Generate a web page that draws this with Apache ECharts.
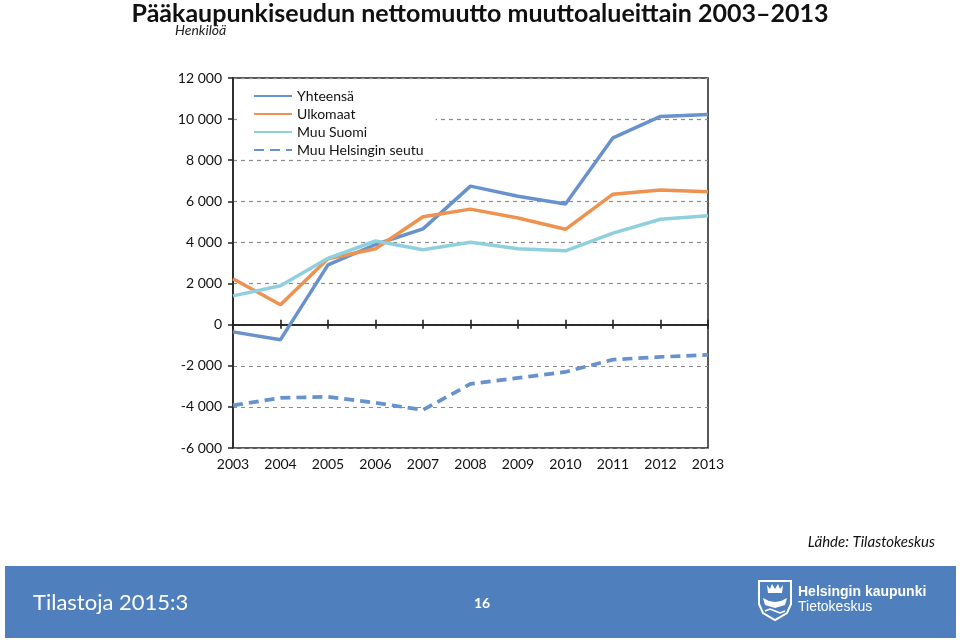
<!DOCTYPE html>
<html>
<head>
<meta charset="utf-8">
<script src="https://cdn.jsdelivr.net/npm/echarts@6/dist/echarts.min.js"></script>
<style>html,body{margin:0;padding:0;background:#fff}#c{width:960px;height:640px}</style>
</head>
<body>
<div id="c"></div>
<script>
const years = ['2003','2004','2005','2006','2007','2008','2009','2010','2011','2012','2013'];
const yhteensa = [-350, -730, 2910, 3900, 4660, 6740, 6250, 5870, 9090, 10130, 10230];
const ulkomaat = [2230, 970, 3210, 3690, 5250, 5620, 5190, 4640, 6350, 6550, 6470];
const muuSuomi = [1400, 1890, 3230, 4070, 3640, 4010, 3690, 3590, 4450, 5130, 5300];
const muuHelsinki = [-3930, -3560, -3510, -3800, -4150, -2880, -2590, -2300, -1700, -1570, -1470];
const seriesNames = ['Yhteensä', 'Ulkomaat', 'Muu Suomi', 'Muu Helsingin seutu'];

const FONT = 'Lato';
const chart = echarts.init(document.getElementById('c'), null, {renderer: 'canvas'});

function fmt(v) {
  const s = Math.abs(v).toString();
  const t = s.length > 3 ? s.slice(0, s.length - 3) + ' ' + s.slice(-3) : s;
  return (v < 0 ? '-' : '') + t;
}

const common = {type: 'line', xAxisIndex: 0, yAxisIndex: 0, symbol: 'none', smooth: false};

chart.setOption({
  animation: false,
  textStyle: {fontFamily: FONT},
  title: [
    {text: 'Pääkaupunkiseudun nettomuutto muuttoalueittain 2003–2013', left: 'center', top: -4,
     textStyle: {fontFamily: FONT, fontSize: 25, fontWeight: 'bold', color: '#111'}},
    {text: 'Henkilöä', left: 170, top: 18,
     textStyle: {fontFamily: FONT, fontSize: 14, fontStyle: 'italic', fontWeight: 'normal', color: '#222'}},
    {text: 'Lähde: Tilastokeskus', right: 20, top: 530,
     textStyle: {fontFamily: FONT, fontSize: 15, fontStyle: 'italic', fontWeight: 'normal', color: '#111'}}
  ],
  grid: {left: 233, right: 252, top: 78, bottom: 192, show: true, borderColor: '#222', borderWidth: 1.5, backgroundColor: 'transparent'},
  legend: {
    data: seriesNames, orient: 'vertical', left: 237, top: 87,
    padding: [2, 12, 0, 16], itemGap: 4, itemWidth: 38, itemHeight: 14,
    backgroundColor: '#fff',
    itemStyle: {opacity: 0},
    textStyle: {fontFamily: FONT, fontSize: 14, color: '#111'}
  },
  xAxis: [
    {type: 'category', data: years, boundaryGap: false, position: 'bottom',
     axisLine: {onZero: true, onZeroAxisIndex: 0, lineStyle: {color: '#222', width: 1.6}},
     axisTick: {show: true, interval: 0, length: 4, lineStyle: {color: '#222', width: 1.6}},
     axisLabel: {show: false}, splitLine: {show: false}},
    {type: 'category', data: years, boundaryGap: false, position: 'bottom',
     axisLine: {show: false, onZero: false}, axisTick: {show: false},
     axisLabel: {show: true, interval: 0, margin: 9, fontFamily: FONT, fontSize: 14, color: '#111'}, splitLine: {show: false}},
    {type: 'category', data: years, boundaryGap: false, position: 'bottom',
     axisLine: {onZero: true, onZeroAxisIndex: 1, show: true, lineStyle: {color: '#222', width: 1.6}},
     axisTick: {show: true, interval: 0, inside: true, length: 5, lineStyle: {color: '#222', width: 1.6}},
     axisLabel: {show: false}, splitLine: {show: false}}
  ],
  yAxis: [
    {type: 'value', min: -6000, max: 12000, interval: 2000,
     axisLine: {show: true, lineStyle: {color: '#222', width: 1.5}},
     axisTick: {show: true, length: 5, lineStyle: {color: '#222', width: 1.5}},
     axisLabel: {margin: 11, fontFamily: FONT, fontSize: 14, color: '#111', formatter: fmt},
     splitLine: {show: true, lineStyle: {color: '#8c8c8c', width: 1.2, type: [4, 4]}}},
    {type: 'value', min: -6000, max: 12000, interval: 2000, position: 'left', show: false,
     splitLine: {show: false}}
  ],
  series: [
    Object.assign({}, common, {name: seriesNames[0], data: yhteensa, lineStyle: {color: '#6892CD', width: 3.5}, itemStyle: {color: '#6892CD'}}),
    Object.assign({}, common, {name: seriesNames[1], data: ulkomaat, lineStyle: {color: '#EF9250', width: 3.5}, itemStyle: {color: '#EF9250'}}),
    Object.assign({}, common, {name: seriesNames[2], data: muuSuomi, lineStyle: {color: '#8ED0DD', width: 3.5}, itemStyle: {color: '#8ED0DD'}}),
    Object.assign({}, common, {name: seriesNames[3], data: muuHelsinki, lineStyle: {color: '#6892CD', width: 3.7, type: [10, 6]}, itemStyle: {color: '#6892CD'}})
  ],
  graphic: [
    {type: 'rect', shape: {x: 5, y: 566, width: 951, height: 72}, style: {fill: '#4F80BD'}, z: 0},
    {type: 'text', x: 33, y: 592, style: {text: 'Tilastoja 2015:3', fill: '#fff', font: '22px ' + FONT}},
    {type: 'text', x: 474, y: 596, style: {text: '16', fill: '#fff', font: 'bold 14px ' + FONT}},
    {type: 'polygon', shape: {points: [[759,581],[791,581],[791,604],[787,613],[775,620],[763,613],[759,604]]}, style: {fill: 'none', stroke: '#fff', lineWidth: 2}},
    {type: 'polygon', shape: {points: [[767,585],[770,589],[772,584],[775,589],[778,584],[780,589],[783,585],[782,593],[768,593]]}, style: {fill: '#fff'}},
    {type: 'polygon', shape: {points: [[763,598],[769,601],[775,602],[781,601],[787,598],[785,605],[775,608],[765,605]]}, style: {fill: '#fff'}},
    {type: 'polyline', shape: {points: [[765,611],[770,609],[775,611],[780,613],[785,611]]}, style: {fill: 'none', stroke: '#fff', lineWidth: 1.6}},
    {type: 'text', x: 798, y: 585, style: {text: 'Helsingin kaupunki', fill: '#fff', font: 'bold 14px "Liberation Sans"'}},
    {type: 'text', x: 798, y: 600, style: {text: 'Tietokeskus', fill: '#fff', font: '14px "Liberation Sans"'}}
  ]
});
</script>
</body>
</html>
